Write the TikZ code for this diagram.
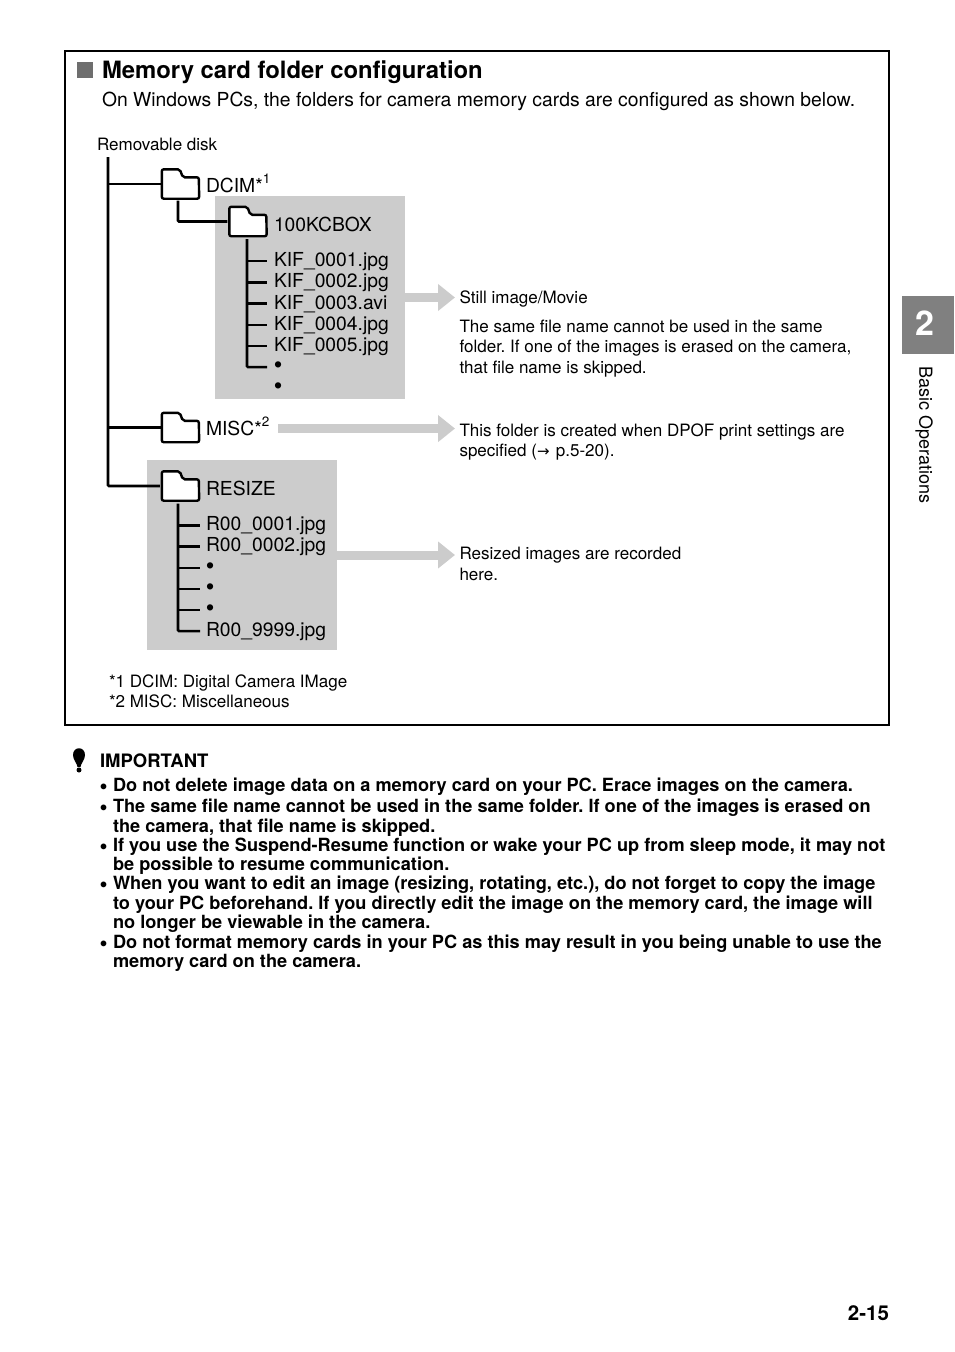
\documentclass[tikz,border=0pt]{standalone}
\usepackage{fontspec}
\usepackage{xcolor}
\setmainfont{TeX Gyre Heros}
\newfontfamily\dotfont{Liberation Sans}
\newfontfamily\arrowfont{DejaVu Sans}
\usetikzlibrary{calc,arrows.meta,positioning}
\definecolor{boxGray}{RGB}{204,204,204}
\definecolor{tabGray}{RGB}{128,128,128}
\definecolor{squareGray}{RGB}{110,110,110}
\newcommand{\sizedfont}[1]{\fontsize{#1}{#1}\selectfont\frenchspacing}
\newcommand{\bigdot}{{\dotfont\fontsize{23}{23}\selectfont •}}
\newcommand{\listdot}{{\dotfont\fontsize{20}{20}\selectfont •}}
\tikzset{
    textlabel/.style={anchor=base west, inner sep=0pt, outer sep=0pt, text=black},
    treelabel/.style={textlabel, font=\sizedfont{19.3}},
    notelabel/.style={textlabel, font=\sizedfont{17.02}},
    boldline/.style={textlabel, font=\sizedfont{18.18}\bfseries},
    shadebox/.style={fill=boxGray, draw=none, inner sep=0pt},
    foldernode/.style={minimum width=37pt, minimum height=29pt, inner sep=0pt},
    folderline/.style={draw=black, fill=white, line width=2.4pt, rounded corners=2pt},
    treeline/.style={draw=black, line width=2.6pt},
    notearrow/.style={draw=boxGray, line width=9pt, -{Triangle[length=17pt,width=26pt]}}
}
\newcommand{\folderat}[2]{
    \node[foldernode] (#1) at (#2) {};
    \draw[folderline] (#1.south west) -- (#1.north west) -- ++(18,0) -- ++(3,8) -- ++(16,0) -- (#1.south east) -- cycle;
}

\begin{document}
\begin{tikzpicture}[x=1pt,y=-1pt]
    \useasboundingbox (0,0) rectangle (954,1352);

    % =========================
    % Frame and heading
    % =========================
    \node[draw=black, line width=1.6pt, minimum width=824pt, minimum height=674pt, inner sep=0pt] (frameBox) at (477,388) {};
    \node[fill=squareGray, minimum size=16pt, inner sep=0pt] (titleSquare) at (85,69.5) {};
    \node[textlabel, font=\sizedfont{23.85}\bfseries] (titleText) at (102,78) {Memory card folder configuration};
    \node[textlabel, font=\sizedfont{19.33}] (introText) at (102,106) {On Windows PCs, the folders for camera memory cards are configured as shown below.};

    % =========================
    % Grey boxes
    % =========================
    \node[shadebox, minimum width=190pt, minimum height=203pt] (kifBox) at (310,297.5) {};
    \node[shadebox, minimum width=190pt, minimum height=190pt] (resizeBox) at (242,555) {};

    % =========================
    % Folder tree
    % =========================
    \node[notelabel] (diskLabel) at (97,150) {Removable disk};
    \coordinate (rootTop) at (108,157);

    \folderat{dcimFolder}{180.5,184}
    \folderat{hundredFolder}{248,221.5}
    \folderat{miscFolder}{180.5,427.5}
    \folderat{resizeFolder}{180.5,486}

    \node[treelabel] (dcimLabel) at (206,192) {DCIM*\raisebox{0.45em}{\sizedfont{13.5}1}};
    \node[treelabel] (hundredLabel) at (274,231) {100KCBOX};
    \node[treelabel] (miscLabel) at (206,435) {MISC*\raisebox{0.45em}{\sizedfont{13.5}2}};
    \node[treelabel] (resizeLabel) at (206,495) {RESIZE};

    % root spine and branches
    \draw[treeline, rounded corners=1pt] (rootTop) |- ([xshift=-2pt]resizeFolder.west);
    \draw[treeline] (rootTop |- dcimFolder.west) -- ([xshift=-1pt]dcimFolder.west);
    \draw[treeline] (rootTop |- miscFolder.west) -- ([xshift=-1pt]miscFolder.west);
    \draw[treeline, rounded corners=1pt] ([xshift=-2.5pt,yshift=-2pt]dcimFolder.south) |- ([xshift=-2pt]hundredFolder.west);

    % files in 100KCBOX
    \node[treelabel] (kifA) at (274,266) {KIF\_0001.jpg};
    \node[treelabel] (kifB) at (274,287.5) {KIF\_0002.jpg};
    \node[treelabel] (kifC) at (274,309) {KIF\_0003.avi};
    \node[treelabel] (kifD) at (274,330) {KIF\_0004.jpg};
    \node[treelabel] (kifE) at (274,351) {KIF\_0005.jpg};
    \node[treelabel] (kifF) at (274,372.5) {\bigdot};
    \node[treelabel] (kifG) at (274,393.5) {\bigdot};
    \coordinate (kifTop) at ([xshift=-1pt,yshift=-3pt]hundredFolder.south);
    \draw[treeline, rounded corners=1pt] (kifTop) |- ([xshift=-7pt]kifF.west);
    \foreach \name in {kifA,kifB,kifC,kifD,kifE}
        \draw[treeline] (kifTop |- \name.west) -- ([xshift=-7pt]\name.west);

    % files in RESIZE
    \node[treelabel] (resizeA) at (206,530.5) {R00\_0001.jpg};
    \node[treelabel] (resizeB) at (206,551.5) {R00\_0002.jpg};
    \node[treelabel] (resizeC) at (206,573.5) {\bigdot};
    \node[treelabel] (resizeD) at (206,594.5) {\bigdot};
    \node[treelabel] (resizeE) at (206,615.5) {\bigdot};
    \node[treelabel] (resizeF) at (206,636) {R00\_9999.jpg};
    \coordinate (resizeTop) at ([xshift=-2.5pt,yshift=-3pt]resizeFolder.south);
    \draw[treeline, rounded corners=1pt] (resizeTop) |- ([xshift=-6pt]resizeF.west);
    \foreach \name in {resizeA,resizeB,resizeC,resizeD,resizeE}
        \draw[treeline] (resizeTop |- \name.west) -- ([xshift=-6pt]\name.west);

    % =========================
    % Notes on the right
    % =========================
    \node[notelabel] (stillLabel) at (459.5,303) {Still image/Movie};
    \node[notelabel] (stillA) at (459.5,332) {The same file name cannot be used in the same};
    \node[notelabel] (stillB) at (459.5,352) {folder. If one of the images is erased on the camera,};
    \node[notelabel] (stillC) at (459.5,373) {that file name is skipped.};
    \node[notelabel] (dpofA) at (459.5,436) {This folder is created when DPOF print settings are};
    \node[notelabel] (dpofB) at (459.5,456) {specified ({\arrowfont\fontsize{15}{15}\selectfont→}\hspace{1.5pt} p.5-20).};
    \node[notelabel] (resizedA) at (459.5,559) {Resized images are recorded};
    \node[notelabel] (resizedB) at (459.5,580) {here.};

    \draw[notearrow] (kifBox.east) -- (kifBox.east -| {455,0});
    \draw[notearrow] ([xshift=9pt,yshift=-2.5pt]miscLabel.east) -- ([yshift=-2.5pt]miscLabel.east -| {455,0});
    \draw[notearrow] (resizeBox.east) -- (resizeBox.east -| {455,0});

    % footnotes
    \node[notelabel] (noteOne) at (109,687) {*1 DCIM: Digital Camera IMage};
    \node[notelabel] (noteTwo) at (109,707) {*2 MISC: Miscellaneous};

    % =========================
    % Important list
    % =========================
    \fill[black] (73,755) .. controls (73,746) and (85,746) .. (85,755) .. controls (85,760) and (81,763) .. (80.5,767) -- (77.5,767) .. controls (77,763) and (73,760) .. (73,755) -- cycle;
    \fill[black] (79,770) circle (2.5);

    \node[boldline, font=\sizedfont{18.5}\bfseries] (importantHead) at (100,767) {IMPORTANT};
    \node[boldline] (bulletA) at (100,793) {\listdot};
    \node[boldline] (lineA) at (113,791) {Do not delete image data on a memory card on your PC. Erace images on the camera.};
    \node[boldline] (bulletB) at (100,814) {\listdot};
    \node[boldline] (lineB) at (113,812) {The same file name cannot be used in the same folder. If one of the images is erased on};
    \node[boldline] (lineC) at (113,832) {the camera, that file name is skipped.};
    \node[boldline] (bulletC) at (100,853) {\listdot};
    \node[boldline] (lineD) at (113,851) {If you use the Suspend-Resume function or wake your PC up from sleep mode, it may not};
    \node[boldline] (lineE) at (113,870) {be possible to resume communication.};
    \node[boldline] (bulletD) at (100,891) {\listdot};
    \node[boldline] (lineF) at (113,889) {When you want to edit an image (resizing, rotating, etc.), do not forget to copy the image};
    \node[boldline] (lineG) at (113,909) {to your PC beforehand. If you directly edit the image on the memory card, the image will};
    \node[boldline] (lineH) at (113,928) {no longer be viewable in the camera.};
    \node[boldline] (bulletE) at (100,950) {\listdot};
    \node[boldline] (lineI) at (113,948) {Do not format memory cards in your PC as this may result in you being unable to use the};
    \node[boldline] (lineJ) at (113,967) {memory card on the camera.};

    % =========================
    % Chapter tab and page number
    % =========================
    \node[fill=tabGray, minimum width=52pt, minimum height=58pt, inner sep=0pt] (chapterTab) at (928,325) {};
    \node[inner sep=0pt, text=white, font=\sizedfont{34}\bfseries] (chapterNum) at (924.5,323.5) {2};
    \node[inner sep=0pt, rotate=-90, font=\sizedfont{18}] (chapterText) at (924,435) {Basic Operations};
    \node[textlabel, font=\sizedfont{20.5}\bfseries, anchor=base east] (pageNum) at (889,1320) {2-15};
\end{tikzpicture}
\end{document}
